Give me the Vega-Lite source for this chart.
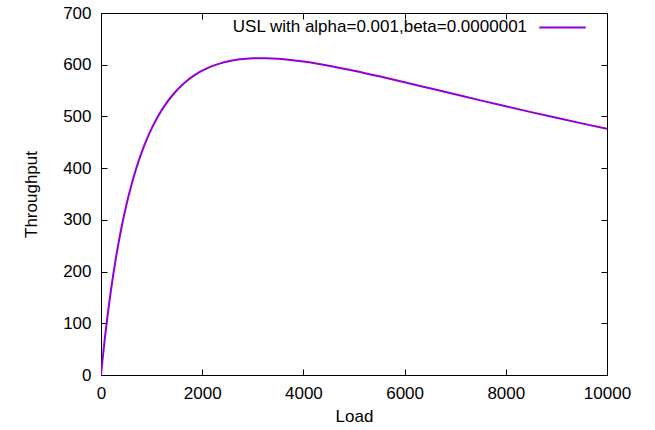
{
  "$schema": "https://vega.github.io/schema/vega-lite/v6.json",
  "width": 506,
  "height": 362,
  "autosize": "none",
  "padding": {"left": 101, "top": 13, "right": 48, "bottom": 55},
  "config": {
    "view": {"stroke": "#000000", "strokeWidth": 1},
    "font": "Liberation Sans",
    "axis": {
      "grid": false,
      "domain": false,
      "labelFlush": false,
      "tickColor": "#000000",
      "tickSize": -6,
      "labelFontSize": 17,
      "labelColor": "#000000",
      "titleFontSize": 17,
      "titleFontWeight": "normal",
      "titleColor": "#000000"
    }
  },
  "data": {"values": [
    {"load": 0, "throughput": 0},
    {"load": 1, "throughput": 1},
    {"load": 10, "throughput": 9.91},
    {"load": 25, "throughput": 24.41},
    {"load": 30, "throughput": 29.15},
    {"load": 50, "throughput": 47.65},
    {"load": 75, "throughput": 69.79},
    {"load": 100, "throughput": 90.9},
    {"load": 125, "throughput": 111.05},
    {"load": 150, "throughput": 130.3},
    {"load": 200, "throughput": 166.3},
    {"load": 250, "throughput": 199.2},
    {"load": 300, "throughput": 229.4},
    {"load": 350, "throughput": 257.1},
    {"load": 400, "throughput": 282.7},
    {"load": 450, "throughput": 306.3},
    {"load": 500, "throughput": 328.1},
    {"load": 600, "throughput": 367.0},
    {"load": 700, "throughput": 400.5},
    {"load": 800, "throughput": 429.4},
    {"load": 900, "throughput": 454.6},
    {"load": 1000, "throughput": 476.4},
    {"load": 1100, "throughput": 495.5},
    {"load": 1200, "throughput": 512.2},
    {"load": 1300, "throughput": 526.8},
    {"load": 1400, "throughput": 539.5},
    {"load": 1500, "throughput": 550.7},
    {"load": 1600, "throughput": 560.4},
    {"load": 1700, "throughput": 569.0},
    {"load": 1800, "throughput": 576.4},
    {"load": 1900, "throughput": 582.9},
    {"load": 2000, "throughput": 588.4},
    {"load": 2125, "throughput": 594.4},
    {"load": 2250, "throughput": 599.2},
    {"load": 2375, "throughput": 603.1},
    {"load": 2500, "throughput": 606.2},
    {"load": 2625, "throughput": 608.7},
    {"load": 2750, "throughput": 610.4},
    {"load": 2875, "throughput": 611.6},
    {"load": 3000, "throughput": 612.4},
    {"load": 3125, "throughput": 612.7},
    {"load": 3250, "throughput": 612.6},
    {"load": 3500, "throughput": 611.5},
    {"load": 3750, "throughput": 609.3},
    {"load": 4000, "throughput": 606.2},
    {"load": 4250, "throughput": 602.4},
    {"load": 4500, "throughput": 598.1},
    {"load": 5000, "throughput": 588.3},
    {"load": 5500, "throughput": 577.5},
    {"load": 6000, "throughput": 566.1},
    {"load": 6500, "throughput": 554.4},
    {"load": 7000, "throughput": 542.7},
    {"load": 7500, "throughput": 531.0},
    {"load": 8000, "throughput": 519.5},
    {"load": 8500, "throughput": 508.3},
    {"load": 9000, "throughput": 497.3},
    {"load": 9500, "throughput": 486.6},
    {"load": 10000, "throughput": 476.2}
  ]},
  "layer": [
    {
      "mark": {"type": "line", "color": "#9400d3", "strokeWidth": 2, "clip": true, "interpolate": "monotone"},
      "encoding": {
        "x": {"field": "load", "type": "quantitative", "title": "Load",
              "scale": {"domain": [0, 10000], "nice": false},
              "axis": {"values": [0, 2000, 4000, 6000, 8000, 10000], "format": "d", "labelPadding": 16, "titlePadding": 7}},
        "y": {"field": "throughput", "type": "quantitative", "title": "Throughput",
              "scale": {"domain": [0, 700], "nice": false},
              "axis": {"values": [0, 100, 200, 300, 400, 500, 600, 700], "format": "d", "labelPadding": 16, "titlePadding": 22}}
      }
    },
    {
      "mark": {"type": "line", "opacity": 0},
      "encoding": {
        "x": {"field": "load", "type": "quantitative",
              "scale": {"domain": [0, 10000], "nice": false},
              "axis": {"orient": "top", "values": [0, 2000, 4000, 6000, 8000, 10000], "labels": false, "title": null}},
        "y": {"field": "throughput", "type": "quantitative",
              "scale": {"domain": [0, 700], "nice": false},
              "axis": {"orient": "right", "values": [0, 100, 200, 300, 400, 500, 600, 700], "labels": false, "title": null}}
      }
    },
    {
      "data": {"values": [{"label": "USL with alpha=0.001,beta=0.0000001", "lx": 8420, "ly": 672}]},
      "mark": {"type": "text", "align": "right", "baseline": "middle", "fontSize": 17, "color": "#000000"},
      "encoding": {
        "x": {"field": "lx", "type": "quantitative", "scale": {"domain": [0, 10000], "nice": false}, "axis": null},
        "y": {"field": "ly", "type": "quantitative", "scale": {"domain": [0, 700], "nice": false}, "axis": null},
        "text": {"field": "label"}
      }
    },
    {
      "data": {"values": [{"x1": 8660, "x2": 9580, "ly": 672}]},
      "mark": {"type": "rule", "color": "#9400d3", "strokeWidth": 2},
      "encoding": {
        "x": {"field": "x1", "type": "quantitative", "scale": {"domain": [0, 10000], "nice": false}, "axis": null},
        "x2": {"field": "x2"},
        "y": {"field": "ly", "type": "quantitative", "scale": {"domain": [0, 700], "nice": false}, "axis": null}
      }
    }
  ],
  "resolve": {"scale": {"x": "independent", "y": "independent"}, "axis": {"x": "independent", "y": "independent"}}
}
